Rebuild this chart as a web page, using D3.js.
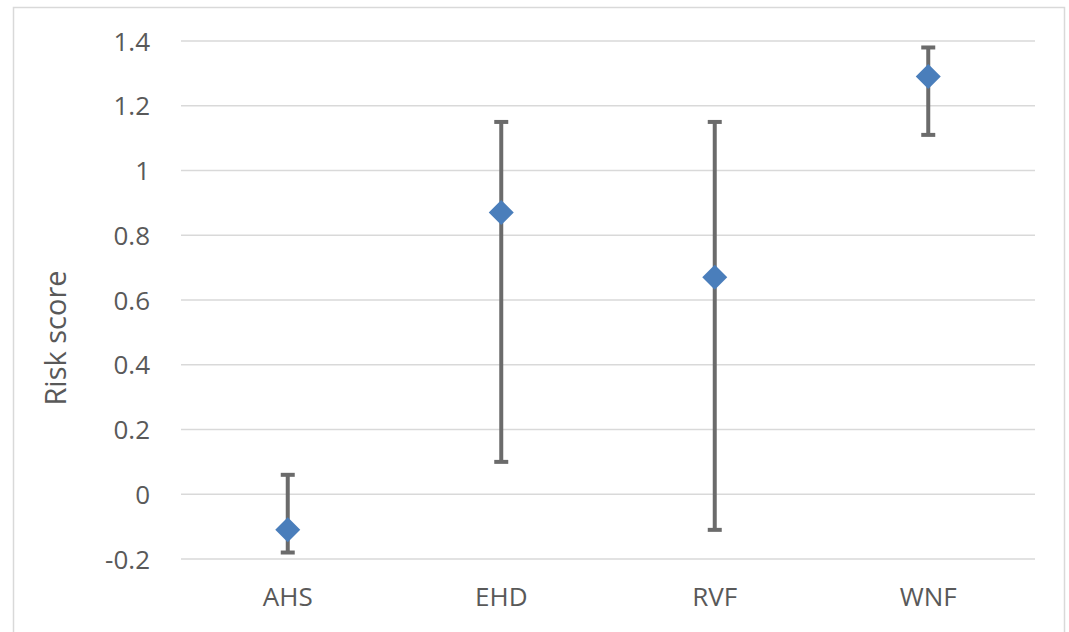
<!DOCTYPE html>
<html>
<head>
<meta charset="utf-8">
<script src="https://cdn.jsdelivr.net/npm/d3@7"></script>
<style>
  body { margin: 0; background: #fff; }
  svg text { font-family: "Open Sans", "Liberation Sans", sans-serif; fill: #595959; }
</style>
</head>
<body>
<div id="chart"></div>
<script>
// Data
const categories = ["AHS", "EHD", "RVF", "WNF"];
const scores = [-0.11, 0.87, 0.67, 1.29];
const lowerBounds = [-0.18, 0.10, -0.11, 1.11];
const upperBounds = [0.06, 1.15, 1.15, 1.38];
const yTicks = [-0.2, 0, 0.2, 0.4, 0.6, 0.8, 1, 1.2, 1.4];

const W = 1069, H = 632;
const plot = { left: 181, right: 1035, top: 41, bottom: 559 };

const svg = d3.select("#chart")
  .append("svg")
  .attr("width", W)
  .attr("height", H);

// Chart border
svg.append("rect")
  .attr("x", 13.5)
  .attr("y", 7.5)
  .attr("width", 1051)
  .attr("height", 640)
  .attr("fill", "none")
  .attr("stroke", "#d9d9d9")
  .attr("stroke-width", 1.5);

// Scales
const x = d3.scaleBand()
  .domain(categories)
  .range([plot.left, plot.right]);

const y = d3.scaleLinear()
  .domain([-0.2, 1.4])
  .range([plot.bottom, plot.top]);

// Gridlines
svg.append("g")
  .selectAll("line")
  .data(yTicks)
  .join("line")
  .attr("x1", plot.left)
  .attr("x2", plot.right)
  .attr("y1", d => y(d))
  .attr("y2", d => y(d))
  .attr("stroke", "#d9d9d9")
  .attr("stroke-width", 1.5);

// Y axis labels
const yAxis = svg.append("g")
  .attr("transform", `translate(${plot.left - 31},0)`)
  .call(d3.axisLeft(y).tickValues(yTicks).tickSize(0).tickPadding(0)
    .tickFormat(d => String(+d.toFixed(1))));
yAxis.select(".domain").remove();
yAxis.selectAll("text")
  .style("font-size", "26px")
  .attr("fill", "#595959")
  .attr("dy", "0.35em");

// X axis labels
const xAxis = svg.append("g")
  .attr("transform", `translate(0,${plot.bottom})`)
  .call(d3.axisBottom(x).tickSize(0).tickPadding(29));
xAxis.select(".domain").remove();
xAxis.selectAll("text")
  .style("font-size", "26px")
  .attr("fill", "#595959");

// Y axis title
svg.append("text")
  .attr("transform", `translate(66,338) rotate(-90)`)
  .attr("text-anchor", "middle")
  .style("font-size", "29px")
  .text("Risk score");

// Error bars
const cx = i => x(categories[i]) + x.bandwidth() / 2;
const bars = svg.append("g").attr("stroke", "#6b6b6b").attr("stroke-width", 4);
categories.forEach((c, i) => {
  bars.append("line")
    .attr("x1", cx(i)).attr("x2", cx(i))
    .attr("y1", y(lowerBounds[i])).attr("y2", y(upperBounds[i]));
  [lowerBounds[i], upperBounds[i]].forEach(v => {
    bars.append("line")
      .attr("x1", cx(i) - 7).attr("x2", cx(i) + 7)
      .attr("y1", y(v)).attr("y2", y(v));
  });
});

// Diamond markers
svg.append("g")
  .selectAll("path")
  .data(scores)
  .join("path")
  .attr("transform", (d, i) => `translate(${cx(i)},${y(d)})`)
  .attr("d", "M0,-12.5L12.5,0L0,12.5L-12.5,0Z")
  .attr("fill", "#4a7ebb");
</script>
</body>
</html>
